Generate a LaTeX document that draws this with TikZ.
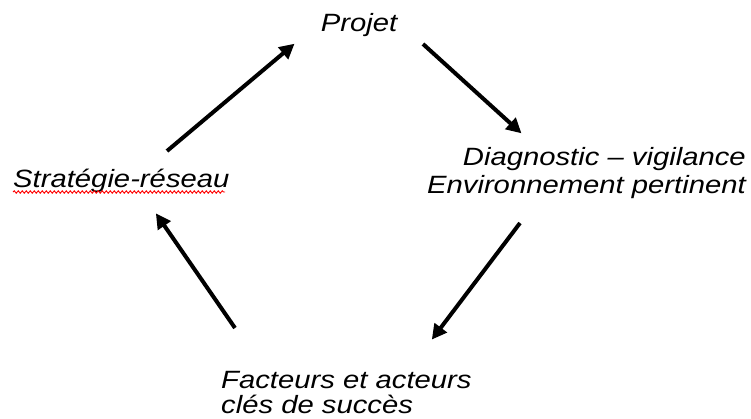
\documentclass[tikz,border=0pt]{standalone}
\usepackage{fontspec}
\setmainfont{Liberation Sans}[FakeStretch=1.17]
\usetikzlibrary{arrows.meta,decorations.pathmorphing}
\begin{document}
\begin{tikzpicture}[x=1pt,y=-1pt,
  lbl/.style={inner sep=0pt,font=\fontsize{25}{28}\selectfont\itshape},
  cyc/.style={line width=4pt,-{Triangle[length=15pt,width=15pt]},shorten >=-2pt},
  spell/.style={red,line width=0.9pt,decorate,decoration={snake,amplitude=1.2pt,segment length=4pt}}]
\useasboundingbox (0,0) rectangle (751,418);
\node[lbl,anchor=base] (projet) at (359,31) {Projet};
\node[lbl,anchor=base west] (strat) at (13,187) {Stratégie-réseau};
\node[lbl,anchor=base east] (diag1) at (746,165) {Diagnostic – vigilance};
\node[lbl,anchor=base east] (diag2) at (746,193) {Environnement pertinent};
\node[lbl,anchor=base west] (fact1) at (221,388) {Facteurs et acteurs};
\node[lbl,anchor=base west] (fact2) at (221,413) {clés de succès};
\draw[spell] (strat.base west) ++(0,5) -- ++(212,0);
\coordinate (a1s) at (167,151); \coordinate (a1e) at (293,45);
\coordinate (a2s) at (423,44);  \coordinate (a2e) at (520,132);
\coordinate (a3s) at (520,223); \coordinate (a3e) at (433,338);
\coordinate (a4s) at (235,328); \coordinate (a4e) at (157,215);
\draw[cyc] (a1s) -- (a1e);
\draw[cyc] (a2s) -- (a2e);
\draw[cyc] (a3s) -- (a3e);
\draw[cyc] (a4s) -- (a4e);
\end{tikzpicture}
\end{document}
